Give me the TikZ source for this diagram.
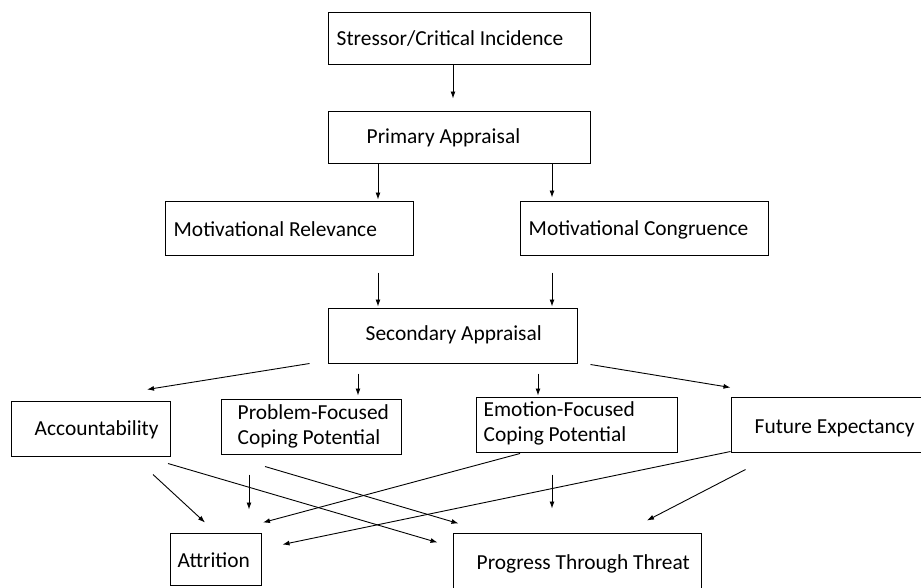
\documentclass[tikz,border=0pt]{standalone}
\usepackage{fontspec}
\setmainfont{Carlito}
\usetikzlibrary{arrows.meta,calc,positioning}

\begin{document}
\begin{tikzpicture}[x=1pt, y=-1pt, >={Latex[length=7pt,width=5pt]},
        box/.style={draw, line width=1pt, inner sep=0pt},
        boxtext/.style={inner sep=0pt, anchor=west, align=left,
            font=\fontsize{21.4}{25}\selectfont},
        link/.style={->, line width=0.9pt}]
        \useasboundingbox (0,0) rectangle (921,587);
        \clip (0,0) rectangle (921,587);

        %%%%%%%%%%%%%%%%%%%%%%%%%%%%%%%%%%%%%%%%%%%%
        % Boxes
        %%%%%%%%%%%%%%%%%%%%%%%%%%%%%%%%%%%%%%%%%%%%

        % Drawing and labeling
        \foreach \n/\cx/\cy/\w/\h/\p/\dy/\t in {
                stress/459/38/262/52/9/1/{Stressor/Critical Incidence},
                primary/459/137/262/52/39/1/{Primary Appraisal},
                relevance/289/228/248/54/9/1/{Motivational Relevance},
                congruence/644/228/248/54/9/2/{Motivational Congruence},
                secondary/452.5/335.5/249/55/38/-1/{Secondary Appraisal},
                account/90.5/428.5/159/55/24/1/{Accountability},
                problem/311/426.5/180/55/17/0/{Problem-Focused\\Coping Potential},
                emotion/576.5/424.5/201/55/8/-1/{Emotion-Focused\\Coping Potential},
                future/828/424.5/194/55/24/4/{Future Expectancy},
                attrition/215.5/559/91/52/8/1/{Attrition},
                progress/577/562.5/248/59/24/1/{Progress Through Threat}}
        {
            \node [box, minimum width=\w, minimum height=\h] (\n) at (\cx,\cy) {};
            \node [boxtext] (\n-text) at ($(\n.west)+(\p,\dy)$) {\t};
        }

        %%%%%%%%%%%%%%%%%%%%%%%%%%%%%%%%%%%%%%%%%%%%
        % Connecting
        %%%%%%%%%%%%%%%%%%%%%%%%%%%%%%%%%%%%%%%%%%%%

        % Appraisal chain
        \foreach \a/\da/\b/\db in {
                stress.south/{-6,0}/primary.north/{-6,-12},
                primary.south/{-81,0}/relevance.north/{89,-1},
                primary.south/{93,0}/congruence.north/{-92,-3},
                relevance.south/{89,17}/secondary.north/{-74.5,-1},
                congruence.south/{-92,17}/secondary.north/{99.5,-1}}
            \draw [link] ($(\a)+(\da)$) -- ($(\b)+(\db)$);

        % Secondary appraisal to components
        \foreach \a/\da/\b/\db in {
                secondary.south west/{-18,0}/account.north/{56.5,-11},
                secondary.south/{-94.5,10}/problem.north/{47,-3},
                secondary.south/{85.5,10}/emotion.north/{-38.5,-1},
                secondary.south east/{13,1}/future.north west/{0,-9}}
            \draw [link] ($(\a)+(\da)$) -- ($(\b)+(\db)$);

        % Components to outcomes
        \foreach \a/\da/\b/\db in {
                account.south/{62.5,18}/attrition.north/{-10.5,-10},
                account.south/{77.5,7}/progress.north west/{-15,10},
                problem.south/{-62,20}/attrition.north/{33.5,-23},
                problem.south/{-46,12}/progress.north west/{6,-9},
                emotion.south/{-56.5,1}/attrition.north/{47.5,-10},
                emotion.south/{-24.5,22}/progress.north/{-25,-24},
                future.south west/{0,-1}/attrition.north east/{21,12},
                future.south west/{15,17}/progress.north/{70,-12}}
            \draw [link] ($(\a)+(\da)$) -- ($(\b)+(\db)$);
    \end{tikzpicture}
\end{document}
